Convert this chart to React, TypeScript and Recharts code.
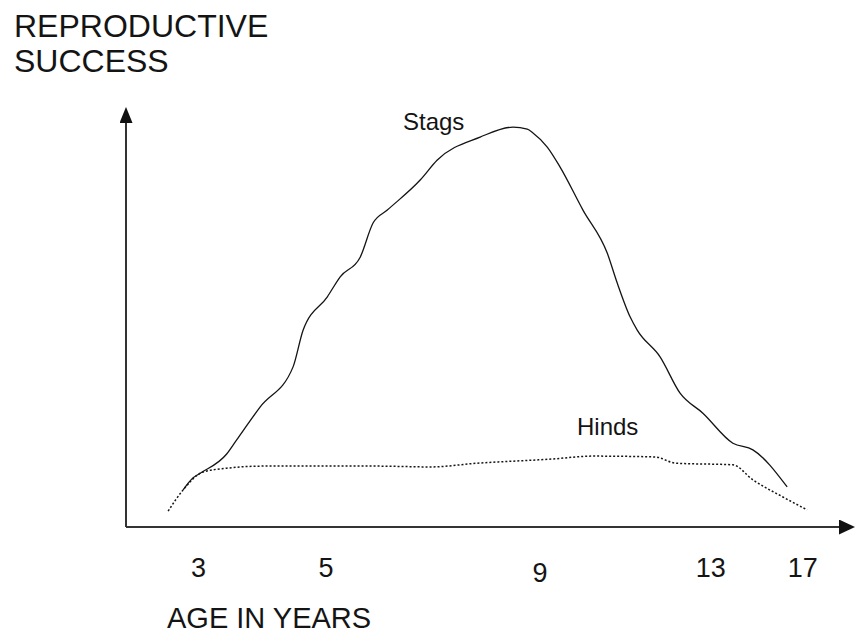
import React from 'react';
import { LineChart, Line, XAxis, YAxis } from 'recharts';

// x is a position along the age axis (0-100), y is reproductive success (0-100)
const stagsX = [8.0, 9.4, 10.4, 14.1, 15.5, 18.8, 23.4, 24.8, 28.2, 30.0, 32.8, 34.6, 36.6, 41.2, 43.6, 49.6, 54.2, 56.2, 57.0, 59.0, 60.8, 64.0, 67.4, 68.8, 70.6, 71.6, 74.8, 77.6, 80.8, 85.0, 87.8, 92.6];
const stagsY = [8.9, 11.8, 12.9, 17.5, 20.9, 28.8, 38.4, 47.2, 55.2, 60.0, 64.7, 72.9, 76.0, 83.2, 88.0, 93.5, 95.9, 95.4, 94.5, 91.1, 86.3, 76.0, 65.7, 58.5, 50.4, 47.2, 40.8, 32.1, 27.3, 20.1, 18.5, 9.6];

const hindsX = [5.9, 8.0, 10.8, 14.1, 19.2, 35.3, 42.6, 49.2, 59.7, 65.4, 74.1, 77.0, 85.0, 87.8, 92.0, 95.4];
const hindsY = [3.8, 8.9, 13.2, 14.1, 14.6, 14.6, 14.4, 15.3, 16.3, 17.0, 16.8, 15.3, 14.9, 11.3, 7.2, 4.1];

const tickPositions = [10.15, 28.0, 58.0, 81.9, 94.8];
const tickLabels = ['3', '5', '9', '13', '17'];

const stagsData = stagsX.map((x, i) => ({ x, y: stagsY[i] }));
const hindsData = hindsX.map((x, i) => ({ x, y: hindsY[i] }));

const FONT = '"Liberation Sans", Arial, sans-serif';
const INK = '#141414';

const AgeTick = (props: any) => {
  const { x, y, payload } = props;
  const idx = tickPositions.indexOf(payload.value);
  const label = tickLabels[idx] ?? '';
  // the "9" sits a little lower in the original drawing
  const drop = label === '9' ? 5 : 0;
  return (
    <text x={x} y={y + 50 + drop} textAnchor="middle" fontSize={27} fontFamily={FONT} fill={INK}>
      {label}
    </text>
  );
};

export default function App() {
  return (
    <div style={{ position: 'absolute', left: 0, top: 0, background: '#fff' }}>
      <LineChart
        width={855}
        height={635}
        margin={{ top: 110, right: 15, bottom: 48, left: 116 }}
      >
        <defs>
          <marker id="arrowUp" viewBox="0 0 16 13" refX={13} refY={6.5} markerWidth={16} markerHeight={13} markerUnits="userSpaceOnUse" orient="auto-start-reverse">
            <path d="M0,0 L16,6.5 L0,13 z" fill="#111" />
          </marker>
          <marker id="arrowRight" viewBox="0 0 16 15" refX={1} refY={7.5} markerWidth={16} markerHeight={15} markerUnits="userSpaceOnUse" orient="auto">
            <path d="M0,0 L16,7.5 L0,15 z" fill="#111" />
          </marker>
        </defs>
        <XAxis
          type="number"
          dataKey="x"
          domain={[0, 100]}
          ticks={tickPositions}
          tick={<AgeTick />}
          tickLine={false}
          tickSize={0}
          tickMargin={0}
          height={60}
          interval={0}
          axisLine={{ stroke: '#333', strokeWidth: 2, markerEnd: 'url(#arrowRight)' }}
          allowDataOverflow
        />
        <YAxis
          type="number"
          dataKey="y"
          domain={[0, 100]}
          width={10}
          tick={false}
          tickLine={false}
          axisLine={{ stroke: '#333', strokeWidth: 2, markerStart: 'url(#arrowUp)' }}
        />
        <Line
          data={stagsData}
          dataKey="y"
          type="monotone"
          stroke={INK}
          strokeWidth={1.3}
          dot={false}
          activeDot={false}
          isAnimationActive={false}
        />
        <Line
          data={hindsData}
          dataKey="y"
          type="monotone"
          stroke={INK}
          strokeWidth={1.5}
          strokeDasharray="2 2"
          dot={false}
          activeDot={false}
          isAnimationActive={false}
        />
        <text x={14} y={37} fontSize={32} fontFamily={FONT} fill={INK}>REPRODUCTIVE</text>
        <text x={14} y={72} fontSize={32} fontFamily={FONT} fill={INK}>SUCCESS</text>
        <text x={167} y={628} fontSize={29} fontFamily={FONT} fill={INK}>AGE IN YEARS</text>
        <text x={403} y={130} fontSize={24} fontFamily={FONT} fill={INK}>Stags</text>
        <text x={577} y={435} fontSize={24} fontFamily={FONT} fill={INK}>Hinds</text>
      </LineChart>
    </div>
  );
}
